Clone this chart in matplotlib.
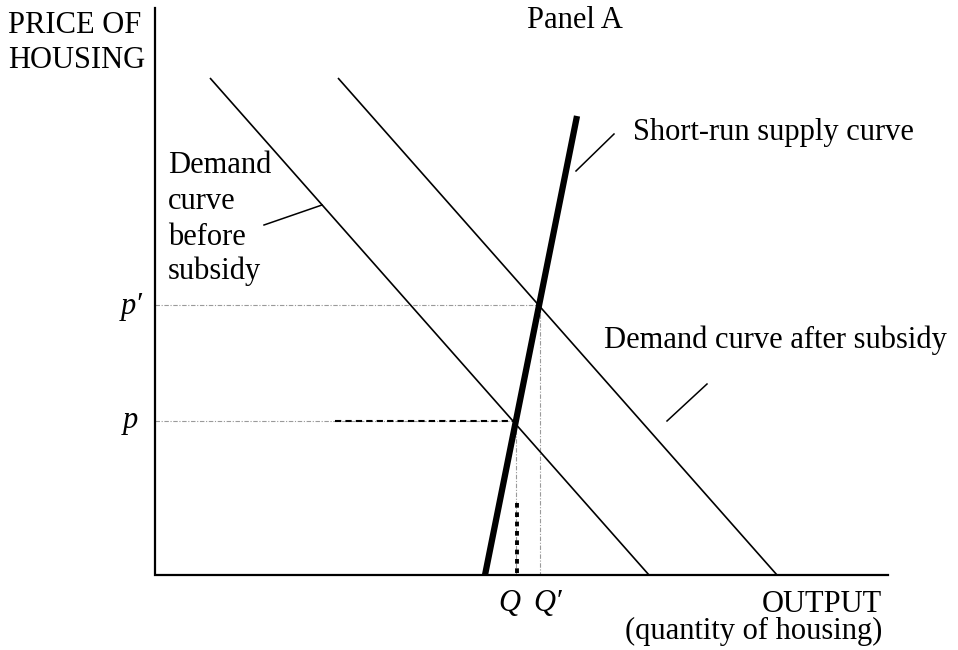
import matplotlib
matplotlib.use('Agg')
import matplotlib.pyplot as plt

# diagram drawn in pixel space of the original picture (x right, y down)
axis_x = [155, 155, 888]
axis_y = [8, 575, 575]

demand_before_x = [210, 649]
demand_before_y = [78, 575]
demand_after_x = [338, 777]
demand_after_y = [78, 575]
supply_x = [485, 577]
supply_y = [575, 116]

p_level = 421
p_new_level = 305
q_level = 516
q_new_level = 540

# leader lines from labels to curves
leader_supply = ([576, 614], [171, 134])
leader_after = ([667, 707], [421, 384])
leader_before = ([264, 322], [225, 205])

before_lines = ['Demand', 'curve', 'before', 'subsidy']
before_baselines = [173, 209, 245, 279]

font = ['Liberation Serif', 'DejaVu Serif']
fs = 22

fig = plt.figure(figsize=(9.58, 6.5), dpi=100)
ax = fig.add_axes([0, 0, 1, 1])
ax.set_xlim(0, 958)
ax.set_ylim(650, 0)
ax.axis('off')

grey = '#9a9a9a'
gstyle = (0, (4, 1.5, 1, 1.5))

# guide lines
ax.plot([axis_x[0], q_new_level], [p_new_level, p_new_level], color=grey, lw=0.8, linestyle=gstyle)
ax.plot([q_new_level, q_new_level], [p_new_level, axis_y[1]], color=grey, lw=0.8, linestyle=gstyle)
ax.plot([axis_x[0], q_level], [p_level, p_level], color=grey, lw=0.8, linestyle=gstyle)
ax.plot([q_level, q_level], [p_level, axis_y[1]], color=grey, lw=0.8, linestyle=gstyle)
ax.plot([335, q_level], [p_level, p_level], color='black', lw=1.5, linestyle=(0, (3, 2)))
ax.plot([q_level + 1, q_level + 1], [503, axis_y[1]], color='black', lw=2.8, linestyle=(0, (1.2, 1.2)))

# curves
ax.plot(demand_before_x, demand_before_y, color='black', lw=1.2, solid_capstyle='butt')
ax.plot(demand_after_x, demand_after_y, color='black', lw=1.2, solid_capstyle='butt')
ax.plot(supply_x, supply_y, color='black', lw=4.5, solid_capstyle='butt')

# axes
ax.plot(axis_x, axis_y, color='black', lw=1.6, solid_joinstyle='miter')

for lx, ly in (leader_supply, leader_after, leader_before):
    ax.plot(lx, ly, color='black', lw=1.1)

# labels
ax.text(8, 33, 'PRICE OF', family=font, fontsize=fs, va='baseline', ha='left')
ax.text(8, 68, 'HOUSING', family=font, fontsize=fs, va='baseline', ha='left')
ax.text(575, 28, 'Panel A', family=font, fontsize=fs, va='baseline', ha='center')
ax.text(633, 140, 'Short-run supply curve', family=font, fontsize=fs, va='baseline', ha='left')
ax.text(604, 348, 'Demand curve after subsidy', family=font, fontsize=fs, va='baseline', ha='left')
for line, base in zip(before_lines, before_baselines):
    ax.text(168, base, line, family=font, fontsize=fs, va='baseline', ha='left')
ax.text(132, 314, 'p\u2032', family=font, fontsize=fs, style='italic', va='baseline', ha='center')
ax.text(130, 428, 'p', family=font, fontsize=fs, style='italic', va='baseline', ha='center')
ax.text(509, 611, 'Q', family=font, fontsize=fs, style='italic', va='baseline', ha='center')
ax.text(548, 611, 'Q\u2032', family=font, fontsize=fs, style='italic', va='baseline', ha='center')
ax.text(882, 612, 'OUTPUT', family=font, fontsize=fs, va='baseline', ha='right')
ax.text(882, 639, '(quantity of housing)', family=font, fontsize=fs, va='baseline', ha='right')

fig.savefig('out.png', dpi=100)
